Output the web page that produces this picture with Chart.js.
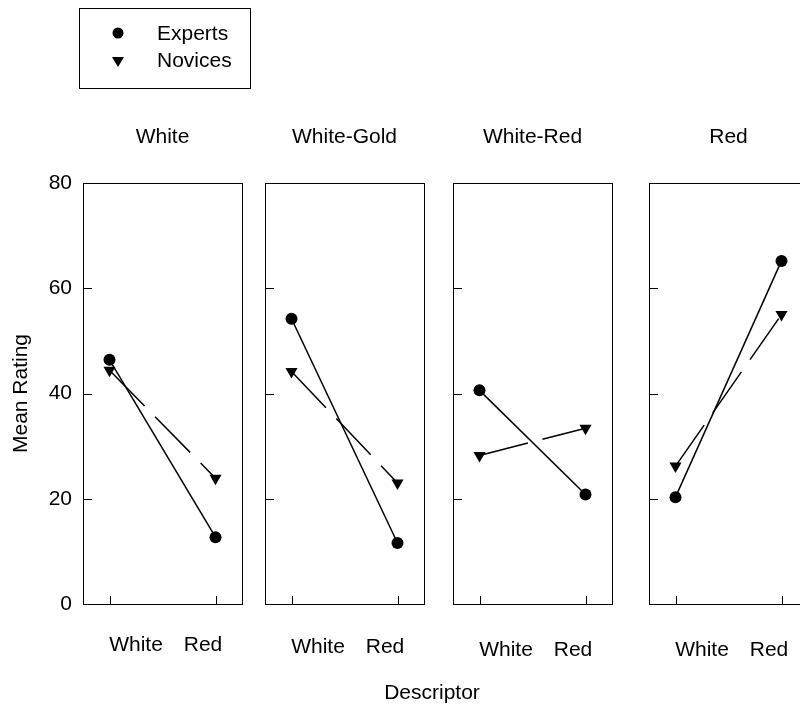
<!DOCTYPE html>
<html>
<head>
<meta charset="utf-8">
<title>Mean Rating by Descriptor</title>
<script src="https://cdn.jsdelivr.net/npm/chart.js@4.4.1/dist/chart.umd.min.js"></script>
<style>
  html, body { margin: 0; padding: 0; background: #fff; }
  #wrap { position: relative; width: 800px; height: 706px; overflow: hidden; font-family: "Liberation Sans", Arial, sans-serif; }
  canvas { position: absolute; top: 0; }
  #xtitle { position: absolute; left: 0; width: 864px; top: 680px; line-height: 24px; text-align: center; font-size: 21px; color: #000; }
</style>
</head>
<body>
<div id="wrap">
  <canvas id="p0" width="272" height="706" style="left:0px"></canvas>
  <canvas id="p1" width="272" height="706" style="left:182px"></canvas>
  <canvas id="p2" width="272" height="706" style="left:370px"></canvas>
  <canvas id="p3" width="272" height="706" style="left:566px"></canvas>
  <div id="xtitle">Descriptor</div>
</div>
<script>
// data
const wineTypes = ["White", "White-Gold", "White-Red", "Red"];
const descriptors = ["White", "Red"];
const expertsWhite = [46.4, 54.2, 40.6, 20.3];
const expertsRed = [12.7, 11.6, 20.8, 65.2];
const novicesWhite = [44.4, 44.2, 28.2, 26.2];
const novicesRed = [23.9, 23.0, 33.4, 55.0];
const yTicks = [0, 20, 40, 60, 80];

// layout bits
const FAMILY = '"Liberation Sans", Arial, sans-serif';
const FONT = '21px ' + FAMILY;
const labelY = [645, 647, 650, 650];

Chart.defaults.font.family = FAMILY;
Chart.defaults.color = '#000';

// frame, inward ticks, panel title and descriptor labels
const panelFrame = {
  id: 'panelFrame',
  afterDraw(chart, args, opts) {
    const { ctx, chartArea: a, scales: { x, y } } = chart;
    ctx.save();
    ctx.strokeStyle = '#000';
    ctx.lineWidth = 1;
    ctx.strokeRect(Math.round(a.left) + 0.5, Math.round(a.top) + 0.5,
      Math.round(a.right - a.left), Math.round(a.bottom - a.top));

    ctx.beginPath();
    yTicks.forEach(v => {
      const py = Math.round(y.getPixelForValue(v)) + 0.5;
      ctx.moveTo(a.left, py);
      ctx.lineTo(a.left + 9, py);
    });
    descriptors.forEach((d, j) => {
      const px = Math.round(x.getPixelForValue(j)) + 0.5;
      ctx.moveTo(px, a.bottom);
      ctx.lineTo(px, a.bottom - 8);
    });
    ctx.stroke();

    ctx.fillStyle = '#000';
    ctx.font = FONT;
    ctx.textAlign = 'center';
    ctx.textBaseline = 'middle';
    ctx.fillText(opts.title, (a.left + a.right) / 2, 137);
    ctx.fillText(descriptors[0], a.left + 53, opts.labelY);
    ctx.fillText(descriptors[1], a.left + 120, opts.labelY);
    ctx.restore();
  }
};

// boxed legend above the first panel
const boxLegend = {
  id: 'boxLegend',
  afterDraw(chart) {
    const ctx = chart.ctx;
    ctx.save();
    ctx.strokeStyle = '#000';
    ctx.lineWidth = 1;
    ctx.strokeRect(79.5, 8.5, 171, 80);

    ctx.fillStyle = '#000';
    ctx.beginPath();
    ctx.arc(118, 33, 5.5, 0, Math.PI * 2);
    ctx.fill();

    ctx.beginPath();
    ctx.moveTo(112, 57);
    ctx.lineTo(124, 57);
    ctx.lineTo(118, 67);
    ctx.closePath();
    ctx.fill();

    ctx.font = FONT;
    ctx.textAlign = 'left';
    ctx.textBaseline = 'middle';
    chart.data.datasets.forEach((ds, k) => {
      ctx.fillText(ds.label, 157, k === 0 ? 34 : 61);
    });
    ctx.restore();
  }
};

wineTypes.forEach((type, i) => {
  const first = i === 0;
  new Chart(document.getElementById('p' + i), {
    type: 'line',
    data: {
      datasets: [{
        label: 'Experts',
        data: [{ x: 0, y: expertsWhite[i] }, { x: 1, y: expertsRed[i] }],
        borderColor: '#000',
        borderWidth: 1.5,
        pointStyle: 'circle',
        pointRadius: 6,
        pointBackgroundColor: '#000',
        pointBorderColor: '#000',
        pointBorderWidth: 0
      }, {
        label: 'Novices',
        data: [{ x: 0, y: novicesWhite[i] }, { x: 1, y: novicesRed[i] }],
        borderColor: '#000',
        borderWidth: 1.5,
        borderDash: [50, 15],
        pointStyle: 'triangle',
        pointRotation: 180,
        pointRadius: 7,
        pointBackgroundColor: '#000',
        pointBorderColor: '#000',
        pointBorderWidth: 0
      }]
    },
    options: {
      responsive: false,
      animation: false,
      // the y axis is always fitted to 83px, labels only shown on the first panel
      layout: { padding: { left: 0, right: 30, top: 183, bottom: 102 } },
      scales: {
        x: { type: 'linear', min: -0.25, max: 1.25, display: false },
        y: {
          min: 0,
          max: 80,
          display: first,
          afterFit: s => { s.width = 83; },
          grid: { display: false, drawTicks: false },
          border: { display: false },
          ticks: { stepSize: 20, padding: 11, color: '#000', font: { size: 21 } },
          title: {
            display: true,
            text: 'Mean Rating',
            color: '#000',
            font: { size: 21 },
            padding: { top: 9, bottom: 0 }
          }
        }
      },
      plugins: {
        legend: { display: false },
        tooltip: { enabled: false },
        panelFrame: { title: type, labelY: labelY[i] }
      }
    },
    plugins: first ? [panelFrame, boxLegend] : [panelFrame]
  });
});
</script>
</body>
</html>
